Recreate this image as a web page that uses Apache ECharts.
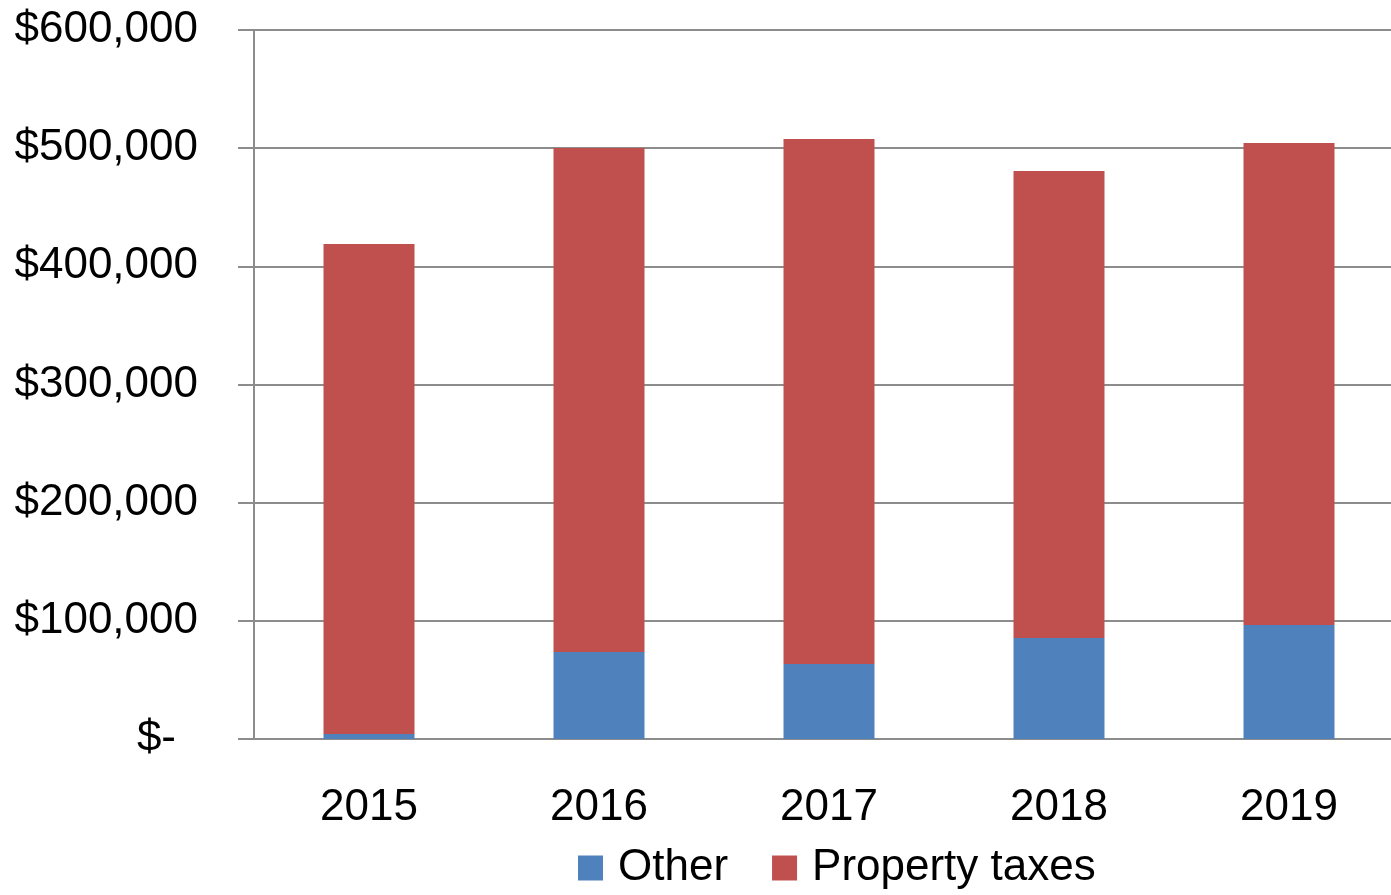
<!DOCTYPE html>
<html>
<head>
<meta charset="utf-8">
<script src="https://cdn.jsdelivr.net/npm/echarts@6/dist/echarts.min.js"></script>
<style>
  html, body { margin: 0; padding: 0; background: #fff; }
  #chart { width: 1391px; height: 895px; }
</style>
</head>
<body>
<div id="chart"></div>
<script>
const years = ['2015', '2016', '2017', '2018', '2019']
const other = [4200, 73600, 63500, 85500, 96500]
const propertyTaxes = [414700, 426500, 444200, 395200, 407900]
const yTicks = { min: 0, max: 600000, interval: 100000 }

const font = 'Liberation Sans'
const gray = '#8c8c8c'

function money(v) {
  if (v === 0) return '{z|$-}'
  return '$' + v.toLocaleString('en-US')
}

const chart = echarts.init(document.getElementById('chart'))
chart.setOption({
  animation: false,
  // plot area runs a little past the right edge of the picture
  grid: { left: 254, top: 30, width: 1150, height: 709, outerBoundsMode: 'none' },
  legend: {
    bottom: 0,
    left: 573,
    icon: 'rect',
    itemWidth: 25,
    itemHeight: 25,
    itemGap: 44,
    textStyle: { fontFamily: font, fontSize: 44, color: '#000', padding: [0, 0, 0, 10] },
    data: ['Other', 'Property taxes']
  },
  xAxis: {
    type: 'category',
    data: years,
    axisLine: { lineStyle: { color: gray, width: 2 } },
    axisTick: { length: 16, lineStyle: { color: gray, width: 2 } },
    axisLabel: { fontFamily: font, fontSize: 44, color: '#000', margin: 47 }
  },
  yAxis: {
    type: 'value',
    min: yTicks.min,
    max: yTicks.max,
    interval: yTicks.interval,
    axisLine: { show: true, lineStyle: { color: gray, width: 2 } },
    axisTick: { show: true, length: 16, lineStyle: { color: gray, width: 2 } },
    splitLine: { lineStyle: { color: gray, width: 2 } },
    axisLabel: {
      fontFamily: font,
      fontSize: 44,
      color: '#000',
      margin: 56,
      formatter: money,
      rich: { z: { fontFamily: font, fontSize: 44, color: '#000', padding: [0, 22, 0, 0] } }
    }
  },
  series: [
    {
      name: 'Other',
      type: 'bar',
      stack: 'total',
      barWidth: 91,
      itemStyle: { color: '#4f81bd' },
      data: other
    },
    {
      name: 'Property taxes',
      type: 'bar',
      stack: 'total',
      barWidth: 91,
      itemStyle: { color: '#c0504d' },
      data: propertyTaxes
    }
  ]
})
</script>
</body>
</html>
